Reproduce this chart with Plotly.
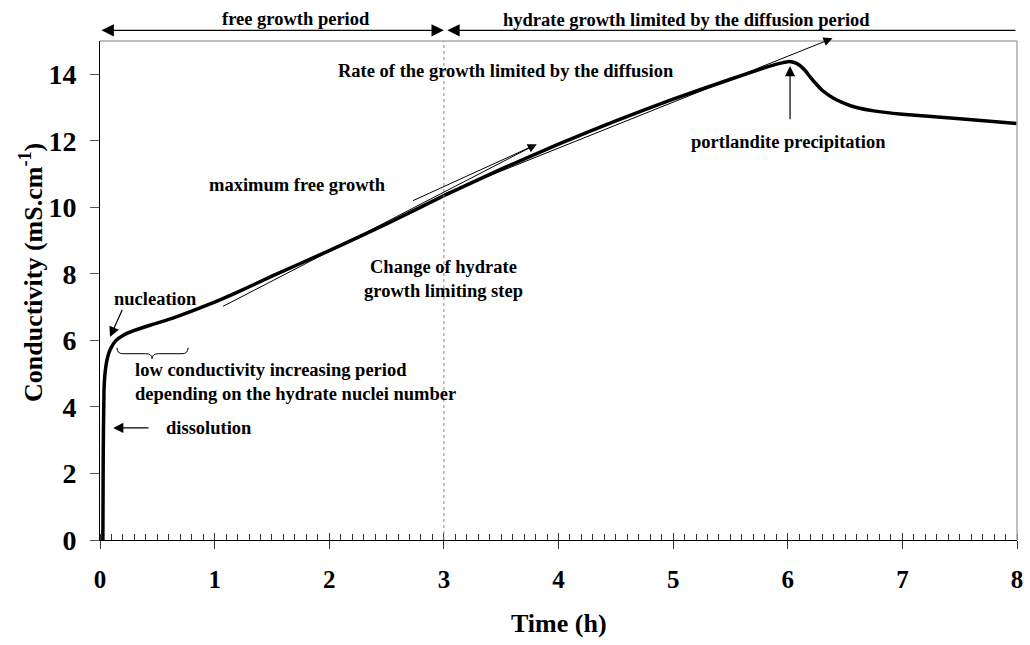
import plotly.graph_objects as go

# ---- data ----
time_h = [0.025, 0.028, 0.035, 0.045, 0.06, 0.08, 0.10, 0.14, 0.20, 0.30, 0.45, 0.60,
          0.80, 1.00, 1.20, 1.50, 2.00, 2.50, 3.00, 3.50, 4.00, 4.50, 5.00, 5.50,
          5.80, 5.92, 6.00, 6.05, 6.10, 6.15, 6.20, 6.25, 6.30, 6.40, 6.50, 6.60,
          6.75, 7.00, 7.50, 8.00]
conductivity = [0.0, 2.5, 4.5, 5.05, 5.4, 5.65, 5.8, 6.0, 6.15, 6.3, 6.47, 6.63,
                6.88, 7.15, 7.45, 7.93, 8.7, 9.5, 10.35, 11.15, 11.9, 12.6, 13.25, 13.85,
                14.2, 14.32, 14.38, 14.36, 14.28, 14.12, 13.9, 13.7, 13.52, 13.28, 13.12, 13.0,
                12.9, 12.8, 12.66, 12.52]
x_ticks = [0, 1, 2, 3, 4, 5, 6, 7, 8]
y_ticks = [0, 2, 4, 6, 8, 10, 12, 14]

FONT = "Times New Roman, Liberation Serif, serif"
ANN = 18.5
X_MAX, Y_MAX = 8, 15
PLOT_W, PLOT_H = 917, 499

fig = go.Figure()
fig.add_trace(go.Scatter(x=time_h, y=conductivity, mode="lines",
                         line=dict(color="black", width=3.5, shape="spline", smoothing=0.5),
                         showlegend=False, hoverinfo="skip"))
# invisible trace to carry the overlay axis (inside major ticks)
fig.add_trace(go.Scatter(x=[0, 8], y=[0, 0], xaxis="x2", mode="lines",
                         line=dict(width=0), showlegend=False, hoverinfo="skip"))

fig.update_layout(
    width=1030, height=645,
    margin=dict(l=100, r=13, t=41, b=105, autoexpand=False),
    paper_bgcolor="white", plot_bgcolor="white",
    xaxis=dict(range=[0, X_MAX], tickvals=x_ticks, ticks="outside", ticklen=8,
               tickcolor="#333", tickwidth=1, showline=True, linecolor="black",
               linewidth=1, showgrid=False, zeroline=False, automargin=False,
               tickfont=dict(family=FONT, size=25, color="black", weight="bold"),
               ticklabelstandoff=9,
               minor=dict(ticks="inside", dtick=0.1, ticklen=6, tickcolor="#333",
                          showgrid=False)),
    xaxis2=dict(range=[0, X_MAX], overlaying="x", anchor="y", side="bottom",
                tickvals=x_ticks, ticks="inside", ticklen=7, tickcolor="#333",
                showticklabels=False, showgrid=False, zeroline=False, showline=False,
                automargin=False),
    yaxis=dict(range=[0, Y_MAX], tickvals=y_ticks, ticks="outside", ticklen=9,
               tickcolor="#555", showline=True, linecolor="black", linewidth=1,
               showgrid=False, zeroline=False, automargin=False,
               tickfont=dict(family=FONT, size=28, color="black", weight="bold"),
               ticklabelstandoff=8),
    showlegend=False,
)

# frame (top and right, gray)
fig.add_shape(type="line", xref="paper", yref="paper", x0=0, x1=1, y0=1, y1=1,
              line=dict(color="#aaaaaa", width=1.5))
fig.add_shape(type="line", xref="paper", yref="paper", x0=1, x1=1, y0=0, y1=1,
              line=dict(color="#aaaaaa", width=1.5))
# dotted vertical at t = 3 h
fig.add_shape(type="line", xref="x", yref="y", x0=3, x1=3, y0=0, y1=15,
              line=dict(color="#888888", width=1, dash="dot"))
# second thin tangent line (no head)
fig.add_shape(type="line", xref="x", yref="y", x0=2.73, y0=10.2, x1=3.78, y1=11.85,
              line=dict(color="black", width=1))
# curly brace under the early curve
fig.add_shape(type="path", xref="x", yref="y",
              path="M 0.148,5.78 Q 0.148,5.6 0.2,5.6 L 0.40,5.6 Q 0.454,5.6 0.454,5.45 "
                   "Q 0.454,5.6 0.51,5.6 L 0.716,5.6 Q 0.768,5.6 0.768,5.78",
              line=dict(color="black", width=1))


def arrow(x, y, ax, ay, size=1.7, width=1.2, side="end"):
    """Arrow with tip (x, y) and tail (ax, ay) in data units, drawn paper-referenced."""
    sx, sy = PLOT_W / X_MAX, PLOT_H / Y_MAX
    fig.add_annotation(x=x / X_MAX, y=y / Y_MAX, xref="paper", yref="paper",
                       ax=(ax - x) * sx, ay=-(ay - y) * sy, axref="pixel", ayref="pixel",
                       text="", showarrow=True, arrowhead=2,
                       arrowsize=size, arrowwidth=width, arrowcolor="black",
                       arrowside=side, standoff=0, startstandoff=0,
                       startarrowhead=2, startarrowsize=size)


# top period arrows (above the plot area)
arrow(3.0, 15.32, 0.0, 15.32, size=1.9, width=1.3, side="end+start")
arrow(3.03, 15.32, 8.0, 15.32, size=1.9, width=1.3)
# inner arrows
arrow(0.087, 6.1, 0.2, 6.97, size=1.7)             # nucleation
arrow(0.115, 3.37, 0.436, 3.37, size=1.7)          # dissolution
arrow(6.02, 14.25, 6.02, 12.6, size=1.7)           # portlandite
arrow(3.81, 11.9, 1.06, 7.0, size=1.8, width=1.0)  # maximum free growth
arrow(6.39, 15.08, 3.0, 10.4, size=1.8, width=1.0)  # diffusion rate


def text(x, y, s, size=ANN, xanchor="center", align="center", xref="x", yref="y"):
    fig.add_annotation(x=x, y=y, xref=xref, yref=yref, text=s, showarrow=False,
                       xanchor=xanchor, yanchor="middle", align=align,
                       font=dict(family=FONT, size=size, color="black", weight="bold"))


text((295.5 - 100) / 917, 1.044, "free growth period", xref="paper", yref="paper")
text((686 - 100) / 917, 1.042, "hydrate growth limited by the diffusion period",
     xref="paper", yref="paper")
text(3.54, 14.1, "Rate of the growth limited by the diffusion")
text(1.72, 10.67, "maximum free growth")
text(3.0, 7.84, "Change of hydrate<br>growth limiting step")
text(6.01, 11.96, "portlandite precipitation")
text(0.48, 7.24, "nucleation")
text(0.29, 4.75, "low conductivity increasing period<br>depending on the hydrate nuclei number",
     xanchor="left", align="left")
text(0.95, 3.37, "dissolution")

# axis titles
fig.add_annotation(x=0.501, y=0, xref="paper", yref="paper", yshift=-83, text="Time (h)",
                   showarrow=False, xanchor="center", yanchor="middle",
                   font=dict(family=FONT, size=26, color="black", weight="bold"))
fig.add_annotation(x=0, y=(540 - 273) / 499, xref="paper", yref="paper", xshift=-69,
                   text="Conductivity (mS.cm<sup>-1</sup>)", textangle=-90,
                   showarrow=False, xanchor="center", yanchor="middle",
                   font=dict(family=FONT, size=26, color="black", weight="bold"))

fig.write_html("out.html", config={"displayModeBar": False},
               post_script="document.body.style.margin='0';document.body.style.overflow='hidden';")
